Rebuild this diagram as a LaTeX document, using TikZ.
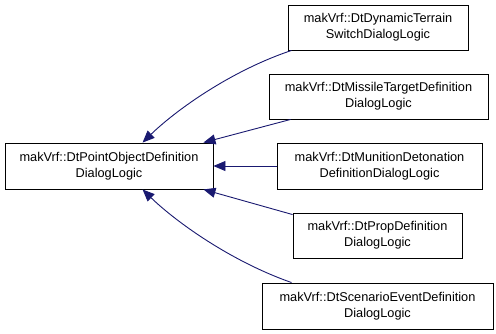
\documentclass[tikz,border=0pt]{standalone}
\usepackage{fontspec}
\setmainfont{Liberation Sans}
\usetikzlibrary{arrows.meta,calc}
\definecolor{edgeblue}{HTML}{191970}
\begin{document}
\begin{tikzpicture}[x=1bp,y=1bp,
  cls/.style={draw=black,line width=0.9bp,fill=white,inner sep=0pt,align=center,
    font=\fontsize{12.8}{15.8}\selectfont},
  inh/.style={draw=edgeblue,line width=0.9bp,-{Triangle[length=12bp,width=10bp]},fill=none},
]
\useasboundingbox (0,0) rectangle (496,333);
\node[cls,minimum width=208bp,minimum height=46bp] (base) at (109,167) {makVrf::DtPointObjectDefinition\\DialogLogic};
\node[cls,minimum width=180bp,minimum height=45bp] (b1) at (378,305.5) {makVrf::DtDynamicTerrain\\SwitchDialogLogic};
\node[cls,minimum width=219bp,minimum height=45bp] (b2) at (378.5,236.5) {makVrf::DtMissileTargetDefinition\\DialogLogic};
\node[cls,minimum width=205bp,minimum height=46bp] (b3) at (379.5,167) {makVrf::DtMunitionDetonation\\DefinitionDialogLogic};
\node[cls,minimum width=169bp,minimum height=45bp] (b4) at (377.5,97.5) {makVrf::DtPropDefinition\\DialogLogic};
\node[cls,minimum width=231bp,minimum height=46bp] (b5) at (377.5,27) {makVrf::DtScenarioEventDefinition\\DialogLogic};
\coordinate (t1) at ($(base.north west)+(138,0)$);
\coordinate (t2) at ($(base.north east)+(-10,0)$);
\coordinate (t4) at ($(base.south east)+(-10,0)$);
\coordinate (t5) at ($(base.south west)+(138,0)$);
\draw[inh] ($(b1.south west)+(4,0)$) .. controls (230,262) and (175,222) .. (t1);
\draw[inh] ($(b2.south west)+(22,0)$) -- (t2);
\draw[inh] (b3.west) -- (base.east);
\draw[inh] ($(b4.north west)+(0,-2)$) -- (t4);
\draw[inh] ($(b5.north west)+(30,0)$) .. controls (230,72) and (175,112) .. (t5);
\end{tikzpicture}
\end{document}
